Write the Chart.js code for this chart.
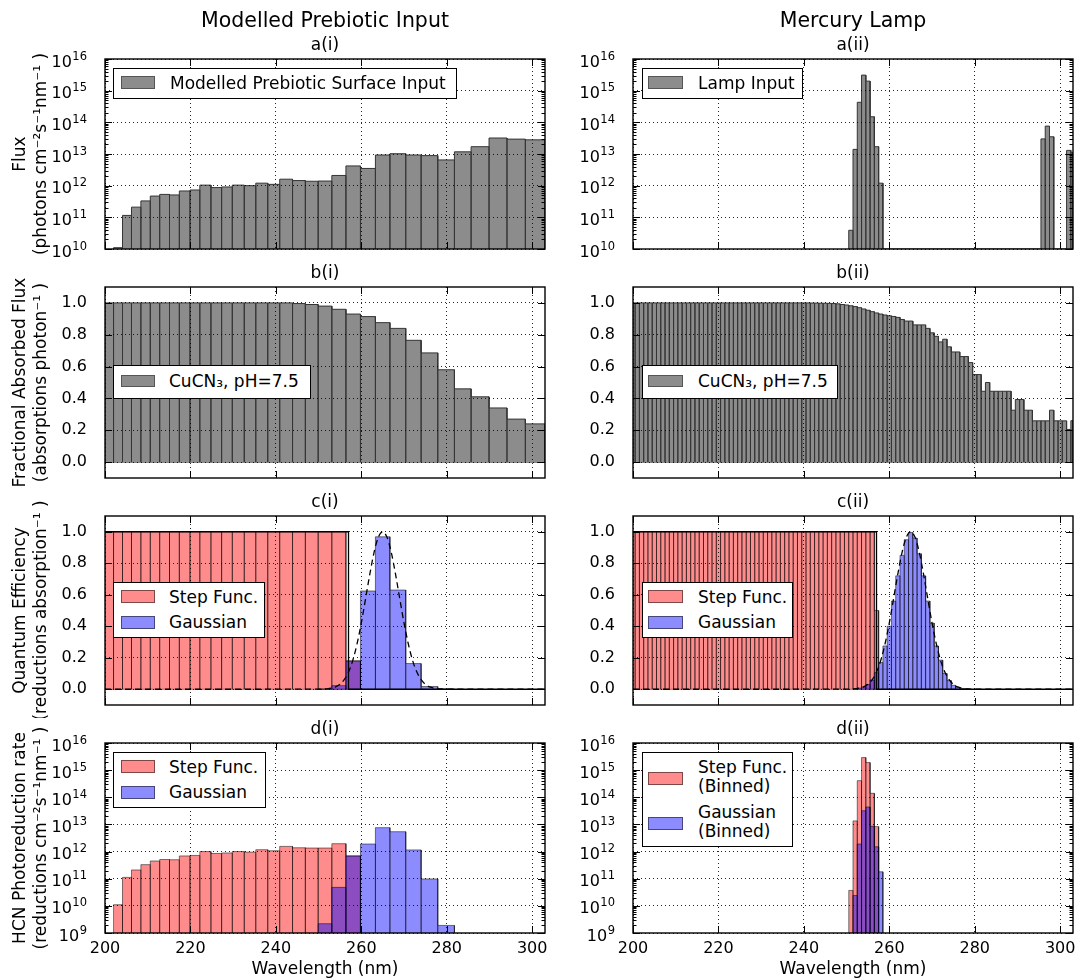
<!DOCTYPE html>
<html><head><meta charset="utf-8"><title>HCN photoreduction</title>
<script src="https://cdn.jsdelivr.net/npm/chart.js@4.4.1/dist/chart.umd.min.js"></script>
<style>
html,body{margin:0;padding:0;background:#fff;}
body{width:1079px;height:980px;position:relative;overflow:hidden;font-family:"DejaVu Sans",sans-serif;}
canvas{position:absolute;}
.lbox{position:absolute;border:1.4px solid #000;background:#fff;box-sizing:border-box;}
.lpatch{position:absolute;box-sizing:border-box;border:1px solid rgba(0,0,0,0.5);}
.ltext{position:absolute;font-size:17px;line-height:20px;white-space:nowrap;color:#000;}
</style></head>
<body>
<script>
// ---------------- DATA ----------------
const xTickVals = [200, 220, 240, 260, 280, 300];
const xTickLabels = ['200', '220', '240', '260', '280', '300'];
const logTicksA = [1e10, 1e11, 1e12, 1e13, 1e14, 1e15, 1e16];
const logExpA = ['10', '11', '12', '13', '14', '15', '16'];     // labels 10^exp
const logTicksD = [1e9, 1e10, 1e11, 1e12, 1e13, 1e14, 1e15, 1e16];
const logExpD = ['9', '10', '11', '12', '13', '14', '15', '16'];
const linTicks = [0, 0.2, 0.4, 0.6, 0.8, 1.0];
const linLabels = ['0.0', '0.2', '0.4', '0.6', '0.8', '1.0'];

// Left column: modelled prebiotic input, variable-width bins (edges in nm)
const binEdgesL = [200.0, 202.0, 204.1, 206.2, 208.4, 210.6, 212.8, 215.1, 217.4, 219.9, 222.2, 224.8, 227.3, 229.8, 232.6, 235.3, 238.1, 240.9, 243.9, 246.9, 249.9, 253.1, 256.4, 259.8, 263.3, 266.7, 270.4, 274.0, 277.9, 281.8, 285.7, 289.9, 294.1, 298.4, 303.5];
const surfaceFlux = [null, 1.1e10, 1.15e11, 2.1e11, 3.3e11, 4.7e11, 5.3e11, 5.1e11, 6.8e11, 7.3e11, 1.04e12, 8.7e11, 9.1e11, 1.04e12, 1.0e12, 1.2e12, 1.1e12, 1.6e12, 1.45e12, 1.38e12, 1.4e12, 2.1e12, 4.2e12, 3.5e12, 9.3e12, 1.02e13, 9.3e12, 8.9e12, 6.5e12, 1.17e13, 1.7e13, 3.2e13, 2.95e13, 2.8e13];
const absorbedL = [1, 1, 1, 1, 1, 1, 1, 1, 1, 1, 1, 1, 1, 1, 1, 1, 1, 1, 0.996, 0.99, 0.98, 0.96, 0.93, 0.914, 0.876, 0.84, 0.765, 0.686, 0.58, 0.46, 0.41, 0.34, 0.27, 0.24];
const stepQEL = [1, 1, 1, 1, 1, 1, 1, 1, 1, 1, 1, 1, 1, 1, 1, 1, 1, 1, 1, 1, 1, 1, 0.18, 0, 0, 0, 0, 0, 0, 0, 0, 0, 0, 0];
const gaussQEL = [0, 0, 0, 0, 0, 0, 0, 0, 0, 0, 0, 0, 0, 0, 0, 0, 0, 0, 0, 0, 0.002, 0.023, 0.18, 0.624, 0.968, 0.63, 0.163, 0.017, 0.0005, 0, 0, 0, 0, 0];
const stepRateL = [null, 1.1e10, 1.12e11, 2.1e11, 3.3e11, 4.5e11, 5.1e11, 5.0e11, 6.9e11, 7.2e11, 1.0e12, 8.5e11, 8.9e11, 1.0e12, 9.5e11, 1.17e12, 1.07e12, 1.55e12, 1.38e12, 1.35e12, 1.35e12, 1.95e12, 6.9e11, 0, 0, 0, 0, 0, 0, 0, 0, 0, 0, 0];
const gaussRateL = [0, 0, 0, 0, 0, 0, 0, 0, 0, 0, 0, 0, 0, 0, 0, 0, 0, 0, 0, 0, 2.2e9, 4.8e10, 6.9e11, 1.9e12, 7.6e12, 5.4e12, 1.15e12, 9.8e10, 1.9e9, 0, 0, 0, 0, 0];

// Right column: mercury lamp, 1 nm bins (centres in nm)
const binCentersR = [200, 201, 202, 203, 204, 205, 206, 207, 208, 209, 210, 211, 212, 213, 214, 215, 216, 217, 218, 219, 220, 221, 222, 223, 224, 225, 226, 227, 228, 229, 230, 231, 232, 233, 234, 235, 236, 237, 238, 239, 240, 241, 242, 243, 244, 245, 246, 247, 248, 249, 250, 251, 252, 253, 254, 255, 256, 257, 258, 259, 260, 261, 262, 263, 264, 265, 266, 267, 268, 269, 270, 271, 272, 273, 274, 275, 276, 277, 278, 279, 280, 281, 282, 283, 284, 285, 286, 287, 288, 289, 290, 291, 292, 293, 294, 295, 296, 297, 298, 299, 300, 301, 302, 303];
const lampCenters = [251, 252, 253, 254, 255, 256, 257, 258, 296, 297, 298, 302, 303];
const lampFlux = [3.9e10, 1.4e13, 4.3e14, 3.1e15, 2.0e15, 1.5e14, 1.7e13, 1.2e12, 3.0e13, 7.6e13, 3.5e13, 1.3e13, 1.1e13];
const absorbedR = [1, 1, 1, 1, 1, 1, 1, 1, 1, 1, 1, 1, 1, 1, 1, 1, 1, 1, 1, 1,
  1, 1, 1, 1, 1, 1, 1, 1, 1, 1, 1, 1, 1, 1, 1, 1, 1, 1, 1, 1, 1, 1,
  0.999, 0.999, 0.998, 0.998, 0.997, 0.996, 0.994, 0.99, 0.987, 0.982, 0.977, 0.97, 0.962, 0.954, 0.945, 0.937, 0.93, 0.924,
  0.919, 0.915, 0.909, 0.896, 0.886, 0.886, 0.862, 0.862, 0.862, 0.84, 0.812, 0.79, 0.755, 0.772, 0.724, 0.692, 0.692, 0.663, 0.663, 0.625,
  0.55, 0.55, 0.445, 0.50, 0.445, 0.445, 0.445, 0.445, 0.445, 0.326, 0.393, 0.393, 0.326, 0.326, 0.259, 0.259, 0.259, 0.259, 0.326, 0.259,
  0.259, 0.259, 0.205, 0.26];
const stepQER = [1, 1, 1, 1, 1, 1, 1, 1, 1, 1, 1, 1, 1, 1, 1, 1, 1, 1, 1, 1,
  1, 1, 1, 1, 1, 1, 1, 1, 1, 1, 1, 1, 1, 1, 1, 1, 1, 1, 1, 1,
  1, 1, 1, 1, 1, 1, 1, 1, 1, 1, 1, 1, 1, 1, 1, 1, 1, 0.5, 0, 0,
  0, 0, 0, 0, 0, 0, 0, 0, 0, 0, 0, 0, 0, 0, 0, 0, 0, 0, 0, 0,
  0, 0, 0, 0, 0, 0, 0, 0, 0, 0, 0, 0, 0, 0, 0, 0, 0, 0, 0, 0,
  0, 0, 0, 0];
const gaussCentersR = [252, 253, 254, 255, 256, 257, 258, 259, 260, 261, 262, 263, 264, 265, 266, 267, 268, 269, 270, 271, 272, 273, 274, 275, 276, 277, 278];
const gaussQER = [0.003, 0.007, 0.015, 0.03, 0.058, 0.105, 0.17, 0.275, 0.40, 0.56, 0.72, 0.85, 0.95, 0.995, 0.96, 0.86, 0.72, 0.56, 0.42, 0.275, 0.185, 0.10, 0.055, 0.025, 0.011, 0.005, 0.002];
const stepRateCentersR = [251, 252, 253, 254, 255, 256, 257];
const stepRateR = [3.7e10, 1.35e13, 4.1e14, 2.9e15, 1.9e15, 1.4e14, 8.3e12];
const gaussRateCentersR = [252, 253, 254, 255, 256, 257, 258];
const gaussRateR = [2.4e10, 1.9e12, 3.2e13, 4.4e13, 8.5e12, 1.5e12, 1.8e11];

// Quantum-efficiency curves (c panels)
const stepCurveX = [200, 257, 257, 303];
const stepCurveY = [1, 1, 0, 0];
const gaussCurveX = [200, 250, 251, 252, 253, 254, 255, 256, 257, 258, 259, 260, 261, 262, 263, 264, 265, 266, 267, 268, 269, 270, 271, 272, 273, 274, 275, 276, 277, 278, 279, 280, 303];
const gaussCurveY = [0, 0.0004, 0.0013, 0.003, 0.007, 0.015, 0.031, 0.061, 0.109, 0.183, 0.288, 0.421, 0.575, 0.732, 0.871, 0.966, 1.0, 0.966, 0.871, 0.732, 0.575, 0.421, 0.288, 0.183, 0.109, 0.061, 0.031, 0.015, 0.007, 0.003, 0.0013, 0.0004, 0];

// ---------------- STYLE / LAYOUT ----------------
const X_MIN = 200, X_MAX = 303;
const GRAY_FACE = '#8c8c8c', GRAY_EDGE = '#353535';
const RED_FACE = 'rgba(255,0,0,0.45)', BLUE_FACE = 'rgba(0,0,255,0.45)', EDGE_A = 'rgba(0,0,0,0.5)';
const GRID = 'rgba(0,0,0,0.85)';
const FONT = '"DejaVu Sans", sans-serif';
const COLS = [{x: 0, w: 560, yW: 105, padR: 15}, {x: 560, w: 519, yW: 73, padR: 6}];
const ROWS = [{y: 0, h: 262, padTop: 10, xH: 13}, {y: 262, h: 229, padTop: 0, xH: 13}, {y: 491, h: 227, padTop: 0, xH: 13}, {y: 718, h: 262, padTop: 0, xH: 47}];
const LABEL_GAP = 18;

Chart.defaults.font.family = FONT;
Chart.defaults.font.size = 16;
Chart.defaults.color = '#000';

const clampX = v => Math.min(X_MAX, Math.max(X_MIN, v));
function outline(lefts, rights, values, base) {
  const pts = [];
  values.forEach((v, i) => {
    if (v === null || !(v > 0)) return;
    const l = clampX(lefts[i]), r = clampX(rights[i]);
    pts.push({x: l, y: base}, {x: l, y: v}, {x: r, y: v}, {x: r, y: base});
  });
  return pts;
}
function baseLine(lefts, rights, values, base) {
  const idx = values.map((v, i) => (v > 0 ? i : -1)).filter(i => i >= 0);
  if (!idx.length) return [];
  return [{x: clampX(lefts[idx[0]]), y: base}, {x: clampX(rights[idx[idx.length - 1]]), y: base}];
}
const leftsL = binEdgesL.slice(0, -1), rightsL = binEdgesL.slice(1);
const lo = c => c.map(v => v - 0.5), hi = c => c.map(v => v + 0.5);

// order: lower numbers are drawn on top
function bars(lefts, rights, values, base, face, edge, fill, order) {
  const sets = [{data: outline(lefts, rights, values, base), backgroundColor: face, borderColor: edge, borderWidth: 1,
    fill: fill, pointRadius: 0, tension: 0, clip: 0, borderJoinStyle: 'miter', order: order}];
  if (fill === 'origin') {
    sets.push({data: baseLine(lefts, rights, values, base), borderColor: edge, borderWidth: 1, fill: false, pointRadius: 0, clip: 0, order: order});
  }
  return sets;
}
function curve(xs, ys, dash) {
  return {data: xs.map((x, i) => ({x: x, y: ys[i]})), borderColor: '#000', borderWidth: 1.3, fill: false, pointRadius: 0,
    borderDash: dash || [], cubicInterpolationMode: dash ? 'monotone' : 'default', clip: 0, order: 0};
}

function makeFrame(xMajor, yMajor, yMinor, expLabels) {
  return {
    id: 'frameTicks',
    afterDraw(chart) {
      const {ctx, chartArea: a, scales} = chart;
      ctx.save();
      ctx.strokeStyle = '#000';
      ctx.lineWidth = 1;
      const seg = (x1, y1, x2, y2) => { ctx.beginPath(); ctx.moveTo(x1, y1); ctx.lineTo(x2, y2); ctx.stroke(); };
      xMajor.forEach(v => {
        const p = Math.round(scales.x.getPixelForValue(v)) + 0.5;
        seg(p, a.bottom, p, a.bottom - 7); seg(p, a.top, p, a.top + 7);
      });
      yMajor.forEach(v => {
        const p = Math.round(scales.y.getPixelForValue(v)) + 0.5;
        seg(a.left, p, a.left + 7, p); seg(a.right, p, a.right - 7, p);
      });
      yMinor.forEach(v => {
        const p = Math.round(scales.y.getPixelForValue(v)) + 0.5;
        seg(a.left, p, a.left + 3.5, p); seg(a.right, p, a.right - 3.5, p);
      });
      ctx.lineWidth = 1.4;
      ctx.strokeRect(a.left, a.top, a.right - a.left, a.bottom - a.top);
      // log tick labels: "10" with a raised exponent, placed by the y scale
      if (expLabels) {
        ctx.fillStyle = '#000';
        ctx.textBaseline = 'alphabetic';
        ctx.textAlign = 'left';
        const xr = a.left - LABEL_GAP;
        yMajor.forEach((v, i) => {
          const py = scales.y.getPixelForValue(v);
          ctx.font = '11.5px ' + FONT;
          const we = ctx.measureText(expLabels[i]).width;
          ctx.font = '16px ' + FONT;
          const wb = ctx.measureText('10').width;
          ctx.fillText('10', xr - we - wb - 0.5, py + 7.5);
          ctx.font = '11.5px ' + FONT;
          ctx.fillText(expLabels[i], xr - we, py + 0.5);
        });
      }
      ctx.restore();
    }
  };
}

function makePanel(p) {
  const col = COLS[p.col], row = ROWS[p.row];
  const cv = document.createElement('canvas');
  cv.width = col.w; cv.height = row.h;
  cv.style.left = col.x + 'px'; cv.style.top = row.y + 'px';
  document.body.appendChild(cv);
  const isLog = p.yType === 'logarithmic';
  const yMinor = [];
  if (isLog) {
    for (let k = Math.round(Math.log10(p.yMin)); k < Math.round(Math.log10(p.yMax)); k++) {
      for (let m = 2; m <= 9; m++) yMinor.push(m * Math.pow(10, k));
    }
  }
  const tagTitle = {display: true, text: p.tag, font: {size: 17, lineHeight: '20px', weight: 'normal'}, color: '#000', padding: {top: 2, bottom: 3}, fullSize: false};
  const plugins = {legend: {display: false}, tooltip: {enabled: false}};
  if (p.header) {
    plugins.title = {display: true, text: p.header, font: {size: 20.5, lineHeight: '24px', weight: 'normal'}, color: '#000', padding: 0, fullSize: false};
    plugins.subtitle = tagTitle;
  } else {
    plugins.title = tagTitle;
  }
  const isBottom = p.row === 3;
  new Chart(cv, {
    type: 'line',
    data: {datasets: p.datasets},
    options: {
      responsive: false, animation: false, events: [],
      layout: {padding: {top: row.padTop, left: 0, right: col.padR, bottom: 0}, autoPadding: false},
      plugins: plugins,
      scales: {
        x: {
          type: 'linear', min: X_MIN, max: X_MAX,
          afterBuildTicks: s => { s.ticks = xTickVals.map(v => ({value: v})); },
          ticks: {display: isBottom, callback: v => xTickLabels[xTickVals.indexOf(v)], font: {size: 16}, padding: 6, maxRotation: 0, autoSkip: false, color: '#000'},
          grid: {display: true, drawTicks: false, color: GRID, lineWidth: 1, z: 1},
          border: {display: false, dash: [1, 3]},
          title: {display: isBottom, text: 'Wavelength (nm)', font: {size: 17, lineHeight: '20px'}, color: '#000', padding: {top: 0, bottom: 0}},
          afterFit: s => { s.height = row.xH; s.paddingLeft = 0; s.paddingRight = 0; }
        },
        y: {
          type: p.yType, min: p.yMin, max: p.yMax,
          afterBuildTicks: s => { s.ticks = p.yTicks.map(v => ({value: v})); },
          ticks: {display: !isLog, callback: v => (p.yLabels ? p.yLabels[p.yTicks.indexOf(v)] : ''), font: {size: 16}, padding: LABEL_GAP, autoSkip: false, color: '#000'},
          grid: {display: true, drawTicks: false, color: GRID, lineWidth: 1, z: 1},
          border: {display: false, dash: [1, 3]},
          title: {display: !!p.yTitle, text: p.yTitle || '', font: {size: 17, lineHeight: '21px'}, color: '#000', padding: {top: 10, bottom: 0}},
          afterFit: s => { s.width = col.yW; s.paddingTop = 0; s.paddingBottom = 0; }
        }
      }
    },
    plugins: [makeFrame(xTickVals, p.yTicks, yMinor, isLog ? p.yExp : null)]
  });
}

const LOG = 'logarithmic', LIN = 'linear';
const panels = [
  {col: 0, row: 0, tag: 'a(i)', header: 'Modelled Prebiotic Input', yType: LOG, yMin: 1e10, yMax: 1e16, yTicks: logTicksA, yExp: logExpA,
    yTitle: ['Flux', '(photons cm⁻²s⁻¹nm⁻¹ )'],
    datasets: bars(leftsL, rightsL, surfaceFlux, 1e10, GRAY_FACE, GRAY_EDGE, 'start', 2)},
  {col: 1, row: 0, tag: 'a(ii)', header: 'Mercury Lamp', yType: LOG, yMin: 1e10, yMax: 1e16, yTicks: logTicksA, yExp: logExpA,
    datasets: bars(lo(lampCenters), hi(lampCenters), lampFlux, 1e10, GRAY_FACE, GRAY_EDGE, 'start', 2)},
  {col: 0, row: 1, tag: 'b(i)', yType: LIN, yMin: -0.1, yMax: 1.1, yTicks: linTicks, yLabels: linLabels,
    yTitle: ['Fractional Absorbed Flux', '(absorptions photon⁻¹ )'],
    datasets: bars(leftsL, rightsL, absorbedL, 0, GRAY_FACE, GRAY_EDGE, 'origin', 2)},
  {col: 1, row: 1, tag: 'b(ii)', yType: LIN, yMin: -0.1, yMax: 1.1, yTicks: linTicks, yLabels: linLabels,
    datasets: bars(lo(binCentersR), hi(binCentersR), absorbedR, 0, GRAY_FACE, GRAY_EDGE, 'origin', 2)},
  {col: 0, row: 2, tag: 'c(i)', yType: LIN, yMin: -0.1, yMax: 1.1, yTicks: linTicks, yLabels: linLabels,
    yTitle: ['Quantum Efficiency', '(reductions absorption⁻¹ )'],
    datasets: [].concat(
      bars(leftsL, rightsL, stepQEL, 0, RED_FACE, EDGE_A, 'origin', 2),
      bars(leftsL, rightsL, gaussQEL, 0, BLUE_FACE, EDGE_A, 'origin', 1),
      [curve(stepCurveX, stepCurveY), curve(gaussCurveX, gaussCurveY, [6, 4])])},
  {col: 1, row: 2, tag: 'c(ii)', yType: LIN, yMin: -0.1, yMax: 1.1, yTicks: linTicks, yLabels: linLabels,
    datasets: [].concat(
      bars(lo(binCentersR), hi(binCentersR), stepQER, 0, RED_FACE, EDGE_A, 'origin', 2),
      bars(lo(gaussCentersR), hi(gaussCentersR), gaussQER, 0, BLUE_FACE, EDGE_A, 'origin', 1),
      [curve(stepCurveX, stepCurveY), curve(gaussCurveX, gaussCurveY, [6, 4])])},
  {col: 0, row: 3, tag: 'd(i)', yType: LOG, yMin: 1e9, yMax: 1e16, yTicks: logTicksD, yExp: logExpD,
    yTitle: ['HCN Photoreduction rate', '(reductions cm⁻²s⁻¹nm⁻¹ )'],
    datasets: [].concat(
      bars(leftsL, rightsL, stepRateL, 1e9, RED_FACE, EDGE_A, 'start', 2),
      bars(leftsL, rightsL, gaussRateL, 1e9, BLUE_FACE, EDGE_A, 'start', 1))},
  {col: 1, row: 3, tag: 'd(ii)', yType: LOG, yMin: 1e9, yMax: 1e16, yTicks: logTicksD, yExp: logExpD,
    datasets: [].concat(
      bars(lo(stepRateCentersR), hi(stepRateCentersR), stepRateR, 1e9, RED_FACE, EDGE_A, 'start', 2),
      bars(lo(gaussRateCentersR), hi(gaussRateCentersR), gaussRateR, 1e9, BLUE_FACE, EDGE_A, 'start', 1))}
];
panels.forEach(makePanel);

// ---------------- LEGENDS (HTML text) ----------------
const GRAY_PATCH = {bg: GRAY_FACE, bd: '#555'};
const RED_PATCH = {bg: RED_FACE, bd: EDGE_A};
const BLUE_PATCH = {bg: BLUE_FACE, bd: EDGE_A};
const legends = [
  {box: [113, 67.5, 344, 31.5], patches: [[121, 76, 34, 12.5, GRAY_PATCH]], texts: [['Modelled Prebiotic Surface Input', 170, 83]]},
  {box: [642, 68, 161, 31], patches: [[648, 76, 35, 12.5, GRAY_PATCH]], texts: [['Lamp Input', 698, 83]]},
  {box: [113, 365, 198, 34], patches: [[121, 374.5, 34, 12.5, GRAY_PATCH]], texts: [['CuCN₃, pH=7.5', 169, 381]]},
  {box: [642, 365, 196, 34], patches: [[648, 374.5, 35, 12.5, GRAY_PATCH]], texts: [['CuCN₃, pH=7.5', 698, 381]]},
  {box: [113, 582, 152, 56], patches: [[121, 590, 34, 12.5, RED_PATCH], [121, 616, 34, 12.5, BLUE_PATCH]], texts: [['Step Func.', 169, 596.5], ['Gaussian', 169, 622]]},
  {box: [642, 582, 151, 56], patches: [[648, 590, 35, 12.5, RED_PATCH], [648, 616, 35, 12.5, BLUE_PATCH]], texts: [['Step Func.', 698, 596.5], ['Gaussian', 698, 622]]},
  {box: [113, 752, 153, 56], patches: [[121, 760, 34, 12.5, RED_PATCH], [121, 786, 34, 12.5, BLUE_PATCH]], texts: [['Step Func.', 169, 766.5], ['Gaussian', 169, 792]]},
  {box: [642, 752, 151, 95], patches: [[648, 772, 35, 12.5, RED_PATCH], [648, 817, 35, 12.5, BLUE_PATCH]], texts: [['Step Func.', 698, 766.5], ['(Binned)', 698, 786], ['Gaussian', 698, 811.5], ['(Binned)', 698, 830.5]]}
];
legends.forEach(L => {
  const b = document.createElement('div');
  b.className = 'lbox';
  Object.assign(b.style, {left: L.box[0] + 'px', top: L.box[1] + 'px', width: L.box[2] + 'px', height: L.box[3] + 'px'});
  document.body.appendChild(b);
  L.patches.forEach(pp => {
    const d = document.createElement('div');
    d.className = 'lpatch';
    Object.assign(d.style, {left: pp[0] + 'px', top: pp[1] + 'px', width: pp[2] + 'px', height: pp[3] + 'px', background: pp[4].bg, borderColor: pp[4].bd});
    document.body.appendChild(d);
  });
  L.texts.forEach(t => {
    const s = document.createElement('div');
    s.className = 'ltext';
    s.textContent = t[0];
    Object.assign(s.style, {left: t[1] + 'px', top: (t[2] - 10) + 'px'});
    document.body.appendChild(s);
  });
});
</script>
</body></html>
